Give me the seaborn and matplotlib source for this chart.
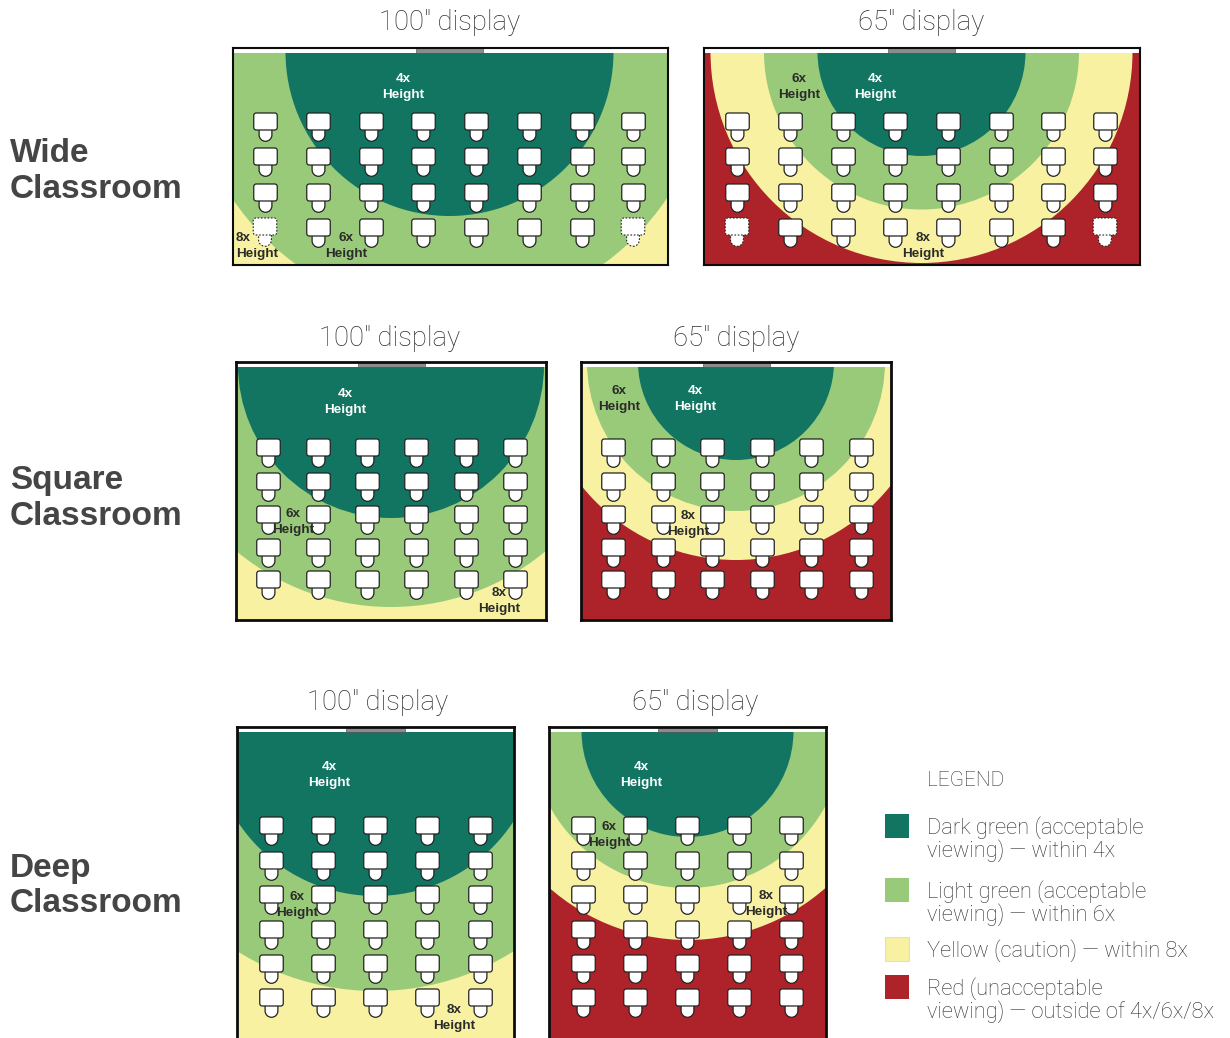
import matplotlib
matplotlib.use("Agg")
import matplotlib.pyplot as plt
from matplotlib.patches import Circle, Rectangle
from matplotlib.path import Path
import seaborn as sns

sns.set_theme(style="white")
W, H = 1230, 1038
SANS = ["Liberation Sans", "DejaVu Sans"]
LIGHTFONT = ["Roboto", "Liberation Sans", "DejaVu Sans"]
plt.rcParams["font.family"] = SANS

DARK, LIGHT, YELLOW, RED = "#117561", "#99CA79", "#F7F1A1", "#AE2229"
TXT = "#454545"
THIN_TXT = "#303030"

ROW_NAMES = ["Wide\nClassroom", "Square\nClassroom", "Deep\nClassroom"]
ROW_LABEL_Y = [171.5, 498.5, 886]
DISPLAY_NAMES = ['100" display', '65" display']

# viewing radii (4x, 6x, 8x height)
RADII_WIDE_100 = [164, 262, 350]
RADII_WIDE_65 = [104, 157.5, 211]
RADII_SQUARE_100 = [153, 242, 327]
RADII_SQUARE_65 = [98, 149, 198]
RADII_DEEP_100 = [165, 260, 347]
RADII_DEEP_65 = [106, 157, 209]

# desks
WIDE_100_X = [265, 318, 370.5, 423, 476, 529, 581.5, 633]
WIDE_65_X = [737, 790, 842.5, 895, 948, 1000.5, 1053, 1105]
WIDE_Y = [121, 156, 191.5, 226.5]
SQUARE_100_X = [268, 318, 367, 416, 466, 515]
SQUARE_65_X = [613, 663, 712, 762, 811, 861]
SQUARE_Y = [447, 481, 514, 547, 579]
DEEP_100_X = [271, 323, 375, 427, 480]
DEEP_65_X = [583, 635, 687, 739, 791]
DEEP_Y = [824.5, 859.5, 894, 928.5, 962.5, 997]

PANELS = [
    dict(title=DISPLAY_NAMES[0], tx=449.5, ty=23, box=(233, 668, 48, 265), cx=449.5, cy=52, top=53, lw=1.5,
         scr=(416, 483), radii=RADII_WIDE_100, xs=WIDE_100_X, ys=WIDE_Y, dashed=True,
         notes=[("4x", 403, 87, "c", "white"), ("8x", 236, 246, "l", "#2b2b2b"), ("6x", 346, 246, "c", "#2b2b2b")]),
    dict(title=DISPLAY_NAMES[1], tx=921.5, ty=23, box=(704, 1140, 48, 265), cx=921.5, cy=52, top=53, lw=1.5,
         scr=(888, 955), radii=RADII_WIDE_65, xs=WIDE_65_X, ys=WIDE_Y, dashed=True,
         notes=[("6x", 799, 87, "c", "#2b2b2b"), ("4x", 875, 87, "c", "white"), ("8x", 923, 246, "c", "#2b2b2b")]),
    dict(title=DISPLAY_NAMES[0], tx=390, ty=338, box=(236, 546, 362, 620), cx=391, cy=365, top=367, lw=2,
         scr=(358, 425), radii=RADII_SQUARE_100, xs=SQUARE_100_X, ys=SQUARE_Y, dashed=False,
         notes=[("4x", 345, 402, "c", "white"), ("6x", 293, 522, "c", "#2b2b2b"), ("8x", 499, 601, "c", "#2b2b2b")]),
    dict(title=DISPLAY_NAMES[1], tx=736, ty=338, box=(581, 891, 362, 620), cx=736, cy=362, top=367, lw=2,
         scr=(703, 770), radii=RADII_SQUARE_65, xs=SQUARE_65_X, ys=SQUARE_Y, dashed=False,
         notes=[("6x", 619, 399, "c", "#2b2b2b"), ("4x", 695, 399, "c", "white"), ("8x", 688, 524, "c", "#2b2b2b")]),
    dict(title=DISPLAY_NAMES[0], tx=378, ty=702, box=(237, 514, 727, 1046), cx=375.5, cy=731, top=732, lw=2,
         scr=(346, 405), radii=RADII_DEEP_100, xs=DEEP_100_X, ys=DEEP_Y, dashed=False,
         notes=[("4x", 329, 775, "c", "white"), ("6x", 297, 905, "c", "#2b2b2b"), ("8x", 454, 1018, "c", "#2b2b2b")]),
    dict(title=DISPLAY_NAMES[1], tx=695, ty=702, box=(549, 826, 727, 1046), cx=687.5, cy=731, top=732, lw=2,
         scr=(658, 717), radii=RADII_DEEP_65, xs=DEEP_65_X, ys=DEEP_Y, dashed=False,
         notes=[("4x", 641, 775, "c", "white"), ("6x", 609, 835, "c", "#2b2b2b"), ("8x", 766, 904, "c", "#2b2b2b")]),
]

LEGEND_COLORS = [DARK, LIGHT, YELLOW, RED]
LEGEND_LABELS = ["Dark green (acceptable\nviewing) \u2014 within 4x",
                 "Light green (acceptable\nviewing) \u2014 within 6x",
                 "Yellow (caution) \u2014 within 8x",
                 "Red (unacceptable\nviewing) \u2014 outside of 4x/6x/8x"]
LEGEND_TOP = [814, 878, 937, 975]


def rounded(x0, x1, y0, y1, rt, rb):
    """Rounded box: radius rt on the y1 corners, rb on the y0 corners."""
    k = 0.45
    c4, ln = Path.CURVE4, Path.LINETO
    v = [(x0 + rb, y0), (x1 - rb, y0), (x1 - rb * k, y0), (x1, y0 + rb * k), (x1, y0 + rb),
         (x1, y1 - rt), (x1, y1 - rt * k), (x1 - rt * k, y1), (x1 - rt, y1),
         (x0 + rt, y1), (x0 + rt * k, y1), (x0, y1 - rt * k), (x0, y1 - rt),
         (x0, y0 + rb), (x0, y0 + rb * k), (x0 + rb * k, y0), (x0 + rb, y0)]
    return Path(v, [Path.MOVETO, ln, c4, c4, c4, ln, c4, c4, c4, ln, c4, c4, c4, ln, c4, c4, c4])


DESK = rounded(-11.75, 11.75, -8.5, 8.5, 2.5, 2.5)
CHAIR = rounded(-6.4, 6.4, -19.8, -6, 1, 6.4)
DESK_S = (2 * 11.75 * 0.72) ** 2
CHAIR_S = (2 * 19.8 * 0.72) ** 2

fig = plt.figure(figsize=(W / 100, H / 100), dpi=100, facecolor="white")


def fx(x):
    return x / W


def fy(y):
    return 1 - y / H


for p in PANELS:
    l, r, t, b = p["box"]
    ax = fig.add_axes([fx(l), fy(b), (r - l) / W, (b - t) / H], facecolor=RED)
    for rad, col, z in zip(reversed(p["radii"]), [YELLOW, LIGHT, DARK], [1, 1.1, 1.2]):
        ax.add_patch(Circle((p["cx"], p["cy"]), rad, fc=col, ec="none", zorder=z))
    ax.add_patch(Rectangle((l, t), r - l, p["top"] - t, fc="white", ec="none", zorder=1.5))
    ax.add_patch(Rectangle((p["scr"][0], t), p["scr"][1] - p["scr"][0], p["top"] - t,
                           fc="#8c8c8c", ec="#444444", lw=0.4, zorder=1.6))
    xs, ys = [], []
    dx, dy = [], []
    for j, y in enumerate(p["ys"]):
        for i, x in enumerate(p["xs"]):
            if p["dashed"] and j == len(p["ys"]) - 1 and i in (0, len(p["xs"]) - 1):
                dx.append(x)
                dy.append(y)
            else:
                xs.append(x)
                ys.append(y)
    for mk, s, z in [(CHAIR, CHAIR_S, 3), (DESK, DESK_S, 4)]:
        sns.scatterplot(x=xs, y=ys, ax=ax, marker=mk, s=s, color="white", edgecolor="#222222",
                        linewidth=0.9, legend=False, zorder=z)
        if dx:
            sns.scatterplot(x=dx, y=dy, ax=ax, marker=mk, s=s, color="white", edgecolor="#222222",
                            linewidth=0.8, linestyle=(0, (1.5, 1.5)), legend=False, zorder=z)
    ax.set_xlim(l, r)
    ax.set_ylim(b, t)
    ax.set_xticks([])
    ax.set_yticks([])
    for sp in ax.spines.values():
        sp.set_color("#0c0c0c")
        sp.set_linewidth(p["lw"])
        sp.set_visible(True)
        sp.set_zorder(6)
    for lab, x, y, ha, col in p["notes"]:
        ax.text(x, y, lab + "\nHeight", ha={"c": "center", "l": "left"}[ha], va="center", color=col,
                family=SANS, fontsize=9.7, fontweight="bold", linespacing=1.5, zorder=7,
                multialignment={"c": "center", "l": "left"}[ha])
    fig.text(fx(p["tx"]), fy(p["ty"]), p["title"], ha="center", va="center", fontsize=19.8, color=THIN_TXT,
             family=LIGHTFONT, fontweight="light")

for name, y in zip(ROW_NAMES, ROW_LABEL_Y):
    fig.text(fx(10), fy(y), name, ha="left", va="center", fontsize=24, fontweight="bold", color=TXT,
             linespacing=1.2)

fig.text(fx(927), fy(780), "LEGEND", ha="left", va="center", fontsize=15, color=THIN_TXT,
         family=LIGHTFONT, fontweight="light")
lax = fig.add_axes([0, 0, 1, 1], facecolor="none")
lax.set_xlim(0, W)
lax.set_ylim(H, 0)
lax.axis("off")
for col, lab, top in zip(LEGEND_COLORS, LEGEND_LABELS, LEGEND_TOP):
    lax.add_patch(Rectangle((885, top), 24, 24, fc=col, ec="#dddddd" if col == YELLOW else "none", lw=0.8))
    lax.text(927, top + 12 - 10, lab, ha="left", va="top", fontsize=15.75, color=THIN_TXT, linespacing=1.02,
             family=LIGHTFONT, fontweight="light")

fig.savefig("out.png", dpi=100)
